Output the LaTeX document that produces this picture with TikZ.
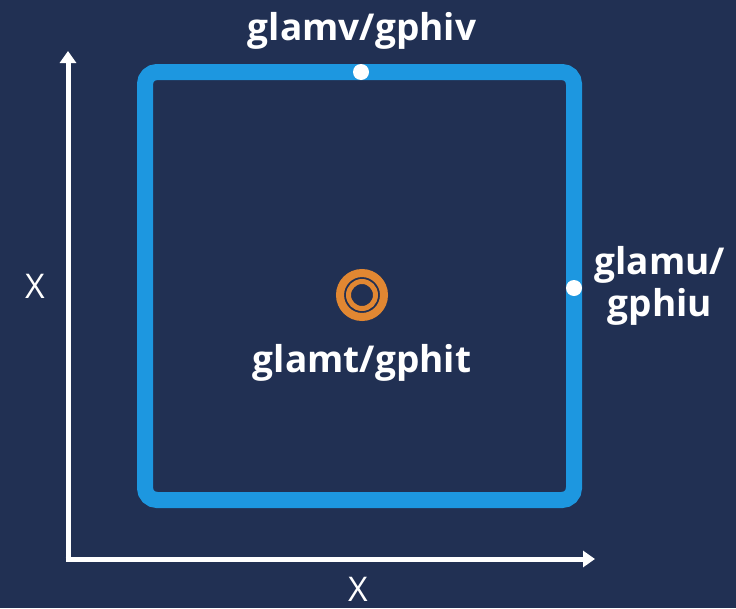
\documentclass[tikz,border=0pt]{standalone}
\usepackage{fontspec}
\setmainfont{Open Sans}
\usetikzlibrary{arrows.meta}

\definecolor{navy}{HTML}{213053}
\definecolor{frameblue}{HTML}{1D97E0}
\definecolor{ringorange}{HTML}{E18732}

\tikzset{
  axis/.style={white, line width=5pt, -{Triangle[width=16pt,length=12pt]}},
  frame/.style={frameblue, line width=16pt, rounded corners=12pt},
  dot/.style={circle, fill=white, inner sep=0pt, minimum size=16pt},
  boldlabel/.style={text=white, font=\fontsize{37}{42}\selectfont\bfseries, inner sep=0pt},
  axislabel/.style={text=white, font=\fontsize{34}{40}\selectfont, inner sep=0pt},
}

\begin{document}
\begin{tikzpicture}[x=1pt, y=-1pt]
  % canvas
  \fill[navy] (0,0) rectangle (736,608);
  \useasboundingbox (0,0) rectangle (736,608);

  % axes
  \coordinate (origin) at (68,559);
  \coordinate (ytip) at (68,51);
  \coordinate (xtip) at (595,559);
  \draw[axis] (origin) -- (ytip);
  \draw[axis] ([xshift=-2.5pt]origin) -- (xtip);
  \node[axislabel, anchor=base] (ylab) at (35,298) {X};
  \node[axislabel, anchor=base] (xlab) at (358,601) {X};

  % square boundary
  \draw[frame] (145,72) rectangle (574,500);

  % points on the boundary
  \node[dot] (vpt) at (361,72) {};
  \node[dot] (upt) at (574,288) {};

  % centre target
  \node[circle, draw=ringorange, line width=8pt, minimum size=44pt, inner sep=0pt] (tpt) at (362,295) {};
  \draw[ringorange, line width=5pt] (tpt.center) circle[radius=13.5pt];

  % labels
  \node[boldlabel, anchor=base] (vlab) at (362,40) {glamv/gphiv};
  \node[boldlabel, anchor=base] (tlab) at (362,372) {glamt/gphit};
  \node[boldlabel, align=center, anchor=base] (ulab) at (660,316) {glamu/\\gphiu};
\end{tikzpicture}
\end{document}
